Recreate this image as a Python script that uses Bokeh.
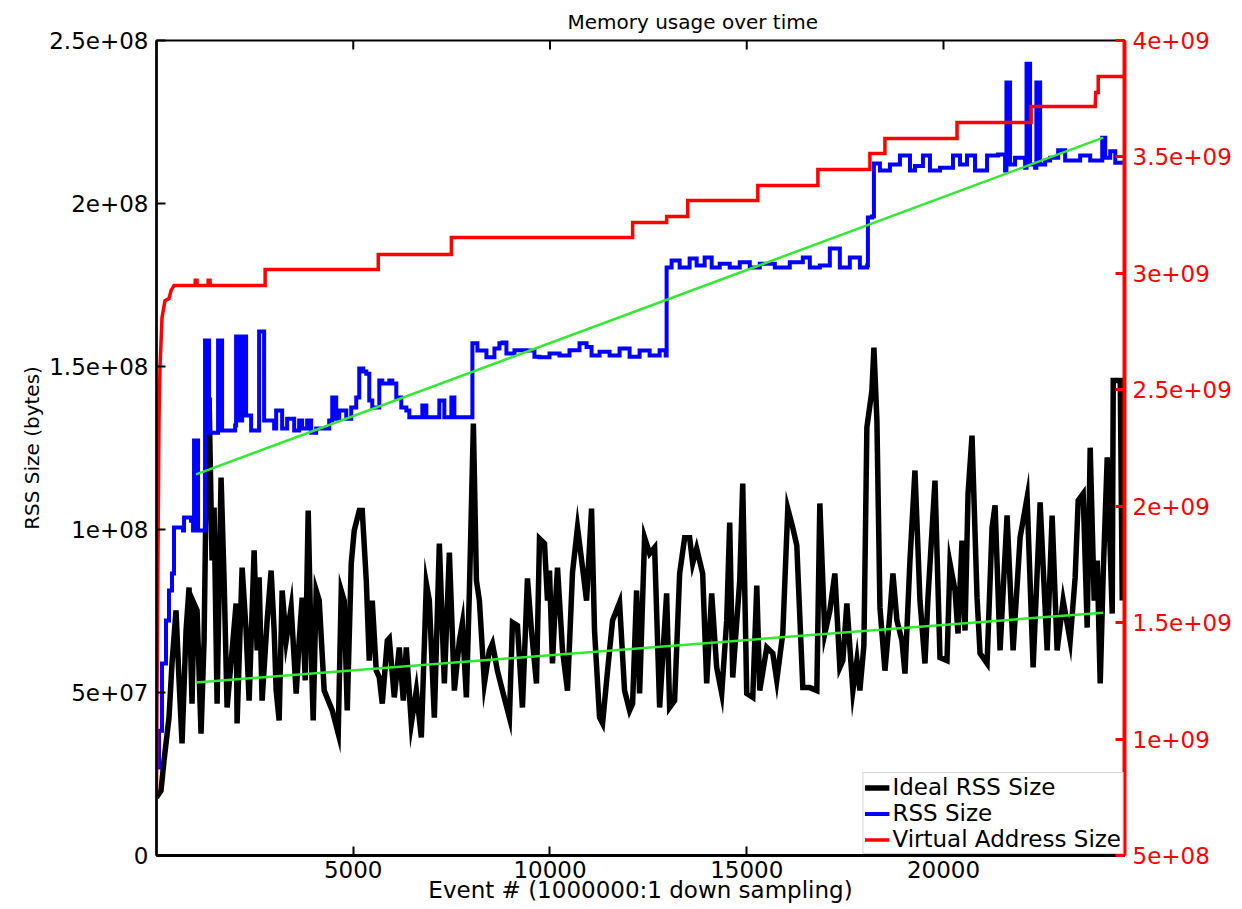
from bokeh.plotting import figure
from bokeh.models import (Range1d, LinearAxis, FixedTicker, Legend, LegendItem,
                          CustomJSTickFormatter)
from bokeh.embed import file_html
from bokeh.resources import INLINE

# ---------------- data ----------------
# Ideal RSS size: event number, value in millions of bytes
ideal_x = [0, 115, 191, 318, 394, 496, 573, 649, 751, 827,
           903, 954, 1031, 1132, 1209, 1285, 1336, 1412, 1463, 1540,
           1641, 1718, 1794, 1921, 2023, 2048, 2176, 2277, 2354, 2481,
           2557, 2608, 2684, 2812, 2913, 2990, 3041, 3117, 3193, 3295,
           3422, 3550, 3626, 3702, 3779, 3855, 3931, 3982, 4058, 4135,
           4262, 4466, 4618, 4695, 4771, 4847, 4949, 5025, 5153, 5229,
           5331, 5407, 5483, 5585, 5662, 5738, 5865, 5916, 6043, 6170,
           6272, 6349, 6476, 6603, 6730, 6858, 6934, 7061, 7188, 7315,
           7443, 7570, 7697, 7773, 7875, 7952, 8053, 8130, 8206, 8333,
           8460, 8537, 8664, 8791, 8969, 9046, 9173, 9300, 9427, 9529,
           9656, 9733, 9860, 9936, 9987, 10063, 10114, 10191, 10318, 10445,
           10572, 10699, 10827, 10929, 11056, 11132, 11259, 11336, 11463, 11590,
           11768, 11895, 12023, 12099, 12201, 12277, 12404, 12532, 12659, 12786,
           12964, 13040, 13167, 13295, 13422, 13549, 13626, 13727, 13880, 13982,
           14109, 14236, 14364, 14491, 14567, 14644, 14822, 14898, 15000, 15153,
           15255, 15331, 15509, 15662, 15763, 15916, 16043, 16170, 16272, 16425,
           16603, 16781, 16857, 16984, 17112, 17239, 17366, 17442, 17544, 17697,
           17799, 17875, 17977, 18053, 18181, 18232, 18308, 18385, 18512, 18639,
           18715, 18817, 18944, 19021, 19148, 19275, 19402, 19529, 19606, 19784,
           19911, 20089, 20165, 20293, 20369, 20471, 20547, 20624, 20725, 20853,
           20929, 21107, 21234, 21311, 21438, 21616, 21769, 21947, 22125, 22278,
           22456, 22634, 22761, 22888, 23041, 23219, 23346, 23423, 23550, 23652,
           23728, 23830, 23906, 23983, 24059, 24161, 24288, 24314, 24492, 24543]
ideal_rss_m = [17.8, 19.9, 29.1, 42.3, 58.9, 75.2, 53.7, 34.4, 69.0, 82.2,
               46.6, 77.3, 75.2, 37.4, 65.9, 133.4, 140.5, 90.5, 106.7, 46.6,
               115.9, 84.4, 45.4, 62.9, 77.3, 40.5, 88.3, 69.0, 47.5, 93.6,
               62.9, 85.3, 47.5, 72.1, 87.4, 69.0, 50.6, 41.4, 81.3, 65.9,
               76.1, 49.7, 65.9, 79.1, 53.7, 105.8, 62.9, 41.4, 81.3, 78.2,
               50.6, 44.5, 37.4, 81.3, 78.2, 44.5, 89.6, 99.7, 105.8, 105.8,
               84.4, 59.8, 78.2, 56.7, 54.6, 46.6, 65.9, 66.6, 48.5, 63.8,
               47.5, 63.8, 40.5, 50.6, 36.2, 83.4, 78.2, 42.3, 95.7, 52.8,
               92.9, 50.6, 65.9, 71.2, 48.5, 81.3, 132.5, 84.4, 78.2, 52.8,
               62.9, 65.0, 56.7, 50.6, 42.3, 71.5, 70.5, 45.4, 85.0, 69.0,
               52.8, 97.2, 95.7, 78.2, 87.4, 58.9, 72.1, 88.3, 62.9, 50.6,
               86.8, 100.6, 88.3, 78.2, 106.4, 69.0, 42.3, 40.5, 56.7, 72.1,
               77.6, 50.6, 44.5, 46.6, 81.3, 49.7, 97.5, 92.6, 94.5, 45.4,
               80.4, 45.4, 47.5, 86.5, 97.5, 97.5, 89.6, 94.2, 86.5, 52.8,
               80.4, 57.7, 49.7, 72.1, 102.1, 54.6, 84.4, 114.1, 49.7, 48.5,
               82.8, 50.6, 63.8, 62.0, 53.7, 68.1, 106.4, 100.6, 95.1, 51.5,
               51.5, 50.6, 108.0, 68.1, 75.1, 86.5, 57.7, 59.8, 77.3, 50.6,
               59.8, 50.6, 64.4, 131.3, 142.6, 155.8, 133.4, 76.1, 56.7, 74.2,
               86.5, 72.1, 65.9, 55.8, 90.5, 118.1, 78.2, 58.9, 79.1, 115.0,
               60.7, 59.8, 89.6, 81.3, 68.1, 96.6, 69.0, 111.0, 128.8, 79.1,
               62.0, 58.9, 100.6, 107.4, 62.9, 104.3, 62.9, 97.5, 109.8, 57.7,
               108.3, 62.9, 104.3, 62.9, 78.2, 65.9, 85.3, 108.9, 111.0, 69.9,
               125.1, 78.2, 90.5, 52.8, 86.5, 122.1, 74.2, 145.7, 145.7, 78.2]

# RSS size: event number, value in millions of bytes
rss_x = [13, 64, 140, 242, 318, 394, 445, 674, 700, 878,
         929, 954, 1031, 1056, 1209, 1234, 1310, 1336, 1540, 1565,
         1641, 1667, 1998, 2023, 2099, 2125, 2176, 2252, 2277, 2405,
         2583, 2608, 2710, 2735, 2990, 3041, 3117, 3193, 3320, 3371,
         3499, 3626, 3702, 3829, 3931, 4058, 4186, 4389, 4466, 4567,
         4644, 4822, 4949, 5076, 5153, 5255, 5331, 5407, 5483, 5662,
         5738, 5916, 5992, 6094, 6221, 6349, 6425, 6680, 6756, 6858,
         7061, 7188, 7315, 7494, 7570, 7825, 8003, 8028, 8155, 8384,
         8588, 8715, 8791, 8893, 9097, 9402, 9605, 9733, 9987, 10242,
         10496, 10750, 10929, 11056, 11259, 11514, 11768, 12023, 12277, 12532,
         12786, 12940, 12964, 13091, 13295, 13549, 13727, 13930, 14109, 14313,
         14567, 14822, 15077, 15331, 15713, 16094, 16425, 16603, 16857, 17112,
         17366, 17620, 17875, 18060, 18079, 18181, 18232, 18385, 18639, 18893,
         19148, 19275, 19478, 19656, 19911, 20242, 20420, 20598, 20802, 21107,
         21387, 21565, 21600, 21660, 21692, 21819, 22074, 22110, 22170, 22201,
         22329, 22360, 22410, 22456, 22583, 22710, 22914, 23092, 23219, 23473,
         23728, 23983, 24034, 24110, 24237, 24365, 24568]
rss_m = [27.0, 38.3, 58.9, 72.1, 81.3, 86.5, 100.6, 99.7, 103.7, 102.7,
         99.7, 127.3, 127.3, 99.7, 99.7, 158.0, 158.0, 129.7, 129.7, 158.0,
         158.0, 130.4, 131.9, 159.2, 159.2, 133.4, 159.2, 159.2, 135.0, 130.4,
         130.4, 160.7, 160.7, 133.4, 131.0, 136.5, 136.5, 131.0, 134.0, 134.0,
         130.4, 133.4, 131.0, 133.4, 129.7, 131.0, 131.0, 133.4, 140.5, 134.0,
         136.5, 134.0, 137.4, 140.5, 149.4, 148.5, 147.8, 139.6, 137.4, 145.7,
         144.8, 145.7, 144.8, 140.5, 137.4, 136.5, 134.4, 134.4, 138.0, 134.4,
         134.4, 139.6, 134.4, 140.5, 134.4, 134.4, 134.4, 157.1, 154.9, 152.8,
         155.5, 157.1, 157.4, 154.0, 155.0, 154.9, 153.0, 152.8, 154.0, 153.4,
         155.0, 157.1, 156.0, 153.4, 154.5, 153.4, 155.5, 153.0, 154.9, 153.4,
         155.0, 153.4, 180.4, 182.5, 180.4, 183.1, 181.0, 183.4, 180.4, 181.5,
         180.4, 182.0, 180.4, 181.5, 180.4, 182.0, 183.4, 180.4, 181.0, 186.2,
         180.4, 183.4, 180.4, 181.0, 195.7, 196.0, 212.3, 210.1, 212.0, 214.7,
         210.1, 211.5, 214.7, 210.1, 211.0, 214.7, 212.0, 214.7, 210.1, 214.7,
         215.0, 210.1, 237.1, 237.1, 212.0, 214.0, 211.0, 242.9, 242.9, 212.0,
         211.0, 237.1, 237.1, 212.0, 213.2, 214.0, 216.3, 213.2, 213.2, 214.7,
         213.2, 213.2, 220.2, 214.0, 216.0, 212.5, 213.2]

# Virtual address size: event number, value in 1e9 bytes
vsize_x = [0, 13, 38, 64, 89, 140, 216, 318, 369, 445,
           980, 985, 1030, 1035, 1310, 1315, 1360, 1365,
           2761, 2761, 5636, 5636, 7494, 7494, 12100, 12100,
           12965, 12965, 13500, 13500, 15281, 15281, 16808, 16808,
           18130, 18130, 18512, 18512, 20344, 20344, 22227, 22227,
           23856, 23870, 23932, 23932, 24594]
vsize_g = [0.766, 1.166, 1.810, 2.368, 2.596, 2.810, 2.883, 2.892, 2.926, 2.948,
           2.948, 2.97, 2.97, 2.948, 2.948, 2.97, 2.97, 2.948,
           2.948, 3.017, 3.017, 3.081, 3.081, 3.154, 3.154, 3.218,
           3.218, 3.244, 3.244, 3.313, 3.313, 3.377, 3.377, 3.446,
           3.446, 3.515, 3.515, 3.579, 3.579, 3.648, 3.648, 3.717,
           3.717, 3.777, 3.777, 3.845, 3.845]

# linear fits (green)
fit_x = [1005, 24059]
rss_fit_m = [116.9, 220.2]
ideal_fit_m = [53.1, 74.5]

left_ticks = [0, 5e7, 1e8, 1.5e8, 2e8, 2.5e8]
right_ticks = [5e8, 1e9, 1.5e9, 2e9, 2.5e9, 3e9, 3.5e9, 4e9]
x_ticks = [5000, 10000, 15000, 20000]
X_MAX = 24600
Y_MAX = 2.5e8

# ---------------- figure ----------------
FONT = "DejaVu Sans"
p = figure(width=1242, height=909, output_backend="svg", toolbar_location=None,
           x_range=Range1d(0, X_MAX), y_range=Range1d(0, Y_MAX),
           min_border_left=156, min_border_right=118, min_border_top=40,
           min_border_bottom=54, title="Memory usage over time")
p.extra_y_ranges = {"vsize": Range1d(5e8, 4e9)}
p.grid.visible = False
p.outline_line_color = "black"
p.outline_line_width = 2
p.background_fill_color = "white"
p.border_fill_color = "white"

p.title.text_font = FONT
p.title.text_font_size = "20px"
p.title.text_font_style = "normal"
p.title.text_color = "black"
p.title.align = "left"
p.title.offset = 411
p.title.standoff = 14

exp_fmt = CustomJSTickFormatter(code="""
if (tick == 0) return "0";
const s = tick.toExponential();
const parts = s.split("e");
let ex = parts[1];
const sign = ex[0];
let d = ex.slice(1);
if (d.length < 2) d = "0" + d;
return parts[0] + "e" + sign + d;
""")

xa = p.xaxis[0]
xa.ticker = FixedTicker(ticks=x_ticks)
xa.axis_label = "Event # (1000000:1 down sampling)"
ya = p.yaxis[0]
ya.ticker = FixedTicker(ticks=left_ticks)
ya.formatter = exp_fmt
ya.axis_label = "RSS Size (bytes)"

for ax in (xa, ya):
    ax.axis_line_width = 2.5
    ax.axis_line_color = "black"
    ax.major_tick_in = 9
    ax.major_tick_out = 0
    ax.major_tick_line_width = 2
    ax.minor_tick_line_color = None
    ax.major_label_text_font = FONT
    ax.major_label_text_font_size = "23px"
    ax.major_label_text_color = "black"
    ax.axis_label_text_font = FONT
    ax.axis_label_text_font_size = "23px"
    ax.axis_label_text_font_style = "normal"
    ax.axis_label_text_color = "black"
xa.axis_line_width = 3
xa.major_label_standoff = 5
xa.axis_label_standoff = -4
ya.major_label_standoff = 8
ya.axis_label_text_font_size = "20px"
ya.axis_label_standoff = 2

ra = LinearAxis(y_range_name="vsize", ticker=FixedTicker(ticks=right_ticks),
                formatter=exp_fmt, axis_line_color="#ff0000", axis_line_width=4,
                major_tick_line_color="#ff0000", major_tick_line_width=3,
                major_tick_in=9, major_tick_out=0, minor_tick_line_color=None,
                major_label_text_color="#ff0000", major_label_text_font=FONT,
                major_label_text_font_size="23px", major_label_standoff=8)
p.add_layout(ra, "right")

# inward tick marks on the top border, at the x tick positions
tick_len = Y_MAX * 9 / 815
p.segment(x0=x_ticks, y0=[Y_MAX] * len(x_ticks), x1=x_ticks,
          y1=[Y_MAX - tick_len] * len(x_ticks), line_color="black", line_width=2)

ideal_b = [v * 1e6 for v in ideal_rss_m]
rss_b = [v * 1e6 for v in rss_m]
vsize_b = [v * 1e9 for v in vsize_g]

r_ideal = p.line(ideal_x, ideal_b, line_color="black", line_width=5.5,
                 line_join="miter")
r_rss = p.step(rss_x, rss_b, mode="after", line_color="#0000ff", line_width=4,
               line_join="miter")
r_vs = p.line(vsize_x, vsize_b, y_range_name="vsize", line_color="#ff0000",
              line_width=3.5, line_join="miter")
p.line(fit_x, [v * 1e6 for v in rss_fit_m], line_color="#33e833", line_width=2.5)
p.line(fit_x, [v * 1e6 for v in ideal_fit_m], line_color="#33e833", line_width=2.5)

legend = Legend(items=[LegendItem(label="Ideal RSS Size", renderers=[r_ideal]),
                       LegendItem(label="RSS Size", renderers=[r_rss]),
                       LegendItem(label="Virtual Address Size", renderers=[r_vs])],
                location="bottom_right", margin=1, padding=1, spacing=0,
                glyph_width=25, glyph_height=25, label_height=25, label_standoff=3,
                label_text_font=FONT, label_text_font_size="23px",
                label_text_color="black",
                border_line_color="#aaaaaa", border_line_width=1,
                background_fill_color="white", background_fill_alpha=1)
p.add_layout(legend)

open("out.html", "w").write(file_html(p, INLINE))
